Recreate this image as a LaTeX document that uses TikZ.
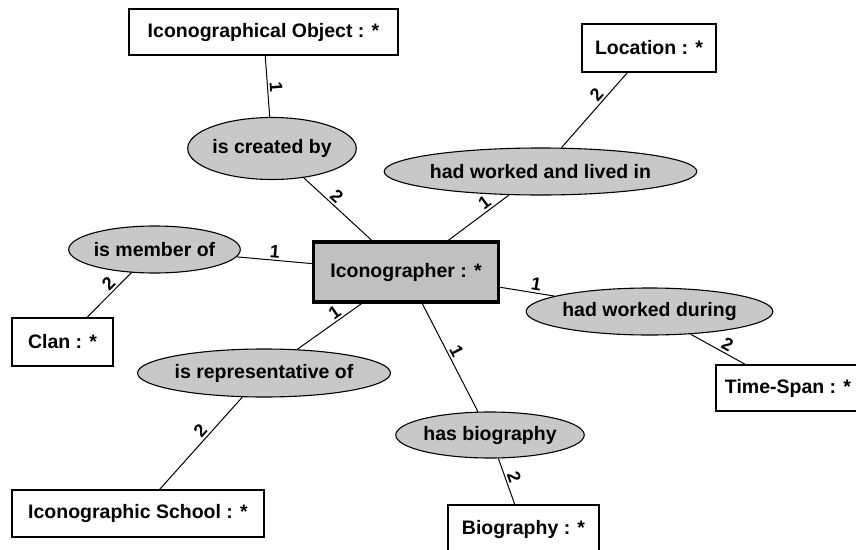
\documentclass[tikz,border=0pt]{standalone}
\usepackage{fontspec}
\setmainfont{Liberation Sans}
\usetikzlibrary{shapes.geometric, positioning}
\definecolor{relgray}{RGB}{200,200,200}
\definecolor{mainfill}{RGB}{192,192,192}

\begin{document}
\begin{tikzpicture}[x=1pt, y=-1pt,
    font=\fontsize{19.5}{22}\selectfont\bfseries,
    entity/.style={rectangle, draw=black, line width=1.3pt, fill=white, inner sep=0pt, minimum height=47pt},
    relation/.style={ellipse, draw=black, line width=1.1pt, fill=relgray, inner sep=0pt, minimum height=47pt},
    link/.style={black, line width=1pt},
    card/.style={sloped, above, font=\fontsize{18}{18}\selectfont\bfseries, inner sep=2pt}]

      \useasboundingbox (0,0) rectangle (856,549);

      \node[entity, line width=3.5pt, fill=mainfill, minimum width=185pt, minimum height=60pt] (icon) at (406,272) {Iconographer : *};

      \node[entity, minimum width=269pt, minimum height=46pt] (object) at (263.5,32) {Iconographical Object : *};
      \node[entity, minimum width=134pt, minimum height=48pt] (location) at (649,48) {Location : *};
      \node[entity, minimum width=101pt, minimum height=48pt] (clan) at (62.5,342) {Clan : *};
      \node[entity, minimum width=144pt, minimum height=46pt] (timespan) at (788,388) {Time-Span : *};
      \node[entity, minimum width=252pt] (school) at (138,513.5) {Iconographic School : *};
      \node[entity, minimum width=151pt, minimum height=48pt] (bio) at (523.5,529) {Biography : *};

      \node[relation, minimum width=152pt, minimum height=62pt] (created) at (272,148.5) {is created by};
      \node[relation, minimum width=253pt] (lived) at (540.5,171.5) {had worked and lived in};
      \node[relation, minimum width=151pt] (member) at (154.5,249.5) {is member of};
      \node[relation, minimum width=205pt] (during) at (649.5,311.5) {had worked during};
      \node[relation, minimum width=202pt, minimum height=48pt] (repr) at (264,373) {is representative of};
      \node[relation, minimum width=154pt, minimum height=46pt] (hasbio) at (490,435) {has biography};

      \draw[link] (object) -- node[card, pos=0.53] {1} (created);
      \draw[link] (created) -- node[card, pos=0.4] {2} (icon);
      \draw[link] (icon) -- node[card, pos=0.68] {1} (lived);
      \draw[link] (lived) -- node[card, pos=0.63] {2} (location);
      \draw[link] (member) -- node[card, pos=0.5] {1} (icon);
      \draw[link] (member) -- node[card, pos=0.38] {2} (clan);
      \draw[link] (icon) -- node[card, pos=0.64] {1} (during);
      \draw[link] (during) -- node[card, pos=0.6] {2} (timespan);
      \draw[link] (icon) -- node[card, pos=0.34] {1} (repr);
      \draw[link] (repr) -- node[card, pos=0.43] {2} (school);
      \draw[link] (icon) -- node[card, pos=0.48] {1} (hasbio);
      \draw[link] (hasbio) -- node[card, pos=0.47] {2} (bio);

    \end{tikzpicture}
\end{document}
